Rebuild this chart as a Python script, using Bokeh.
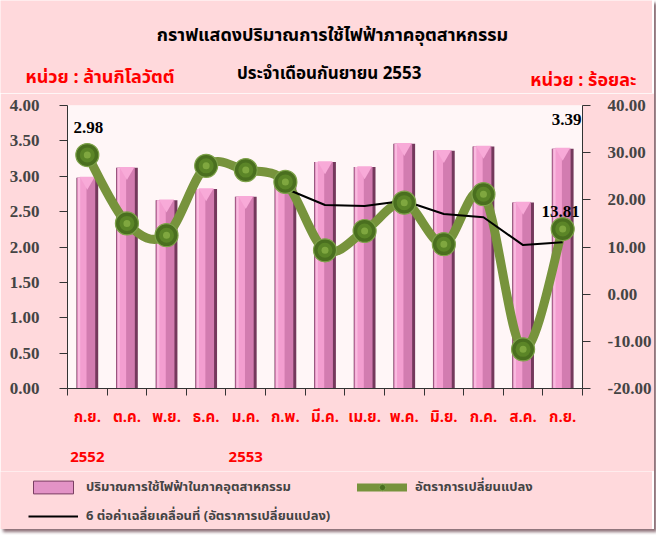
import numpy as np
from bokeh.plotting import figure
from bokeh.layouts import column
from bokeh.models import (Range1d, LinearAxis, FixedTicker, Label, Legend, LegendItem,
                          ColumnDataSource, NumeralTickFormatter)
from bokeh.transform import dodge
from bokeh.core.properties import value
from bokeh.embed import file_html
from bokeh.resources import INLINE

# ---------------- data ----------------
months = ["ก.ย.", "ต.ค.", "พ.ย.", "ธ.ค.", "ม.ค.", "ก.พ.", "มี.ค.", "เม.ย.", "พ.ค.", "มิ.ย.", "ก.ค.", "ส.ค.", "ก.ย."]
year_labels = {0: "2552", 4: "2553"}
usage = [2.98, 3.12, 2.66, 2.82, 2.71, 2.92, 3.20, 3.13, 3.46, 3.36, 3.42, 2.63, 3.39]   # ล้านกิโลวัตต์
change = [29.5, 15.0, 12.5, 27.2, 26.3, 23.8, 9.3, 13.4, 19.4, 10.6, 21.2, -11.7, 13.81]  # ร้อยละ
ma6_idx = [5, 6, 7, 8, 9, 10, 11, 12]
ma6 = [22.4, 18.9, 18.7, 19.8, 17.0, 16.3, 10.4, 11.0]
left_ticks = [0.0, 0.5, 1.0, 1.5, 2.0, 2.5, 3.0, 3.5, 4.0]
right_ticks = [-20, -10, 0, 10, 20, 30, 40]
legend_labels = ["ปริมาณการใช้ไฟฟ้าในภาคอุตสาหกรรม", "อัตราการเปลี่ยนแปลง",
                 "6 ต่อค่าเฉลี่ยเคลื่อนที่ (อัตราการเปลี่ยนแปลง)"]

THAI = "Noto Sans Thai, Noto Sans Thai UI, Loma, Garuda, Noto Sans, sans-serif"
SERIF = "Liberation Serif"
PINK = "#ffd9dc"
W = 652
BAR_C = "#d27cb0"
GREEN = "#77933c"

idx = list(range(len(months)))
src = ColumnDataSource(dict(x=idx, usage=usage, change=change))

# ---------------- title strip ----------------
TH = 93
top = figure(width=W, height=TH, x_range=Range1d(0, W), y_range=Range1d(0, TH),
             output_backend="svg", toolbar_location=None, frame_align=False,
             x_axis_location=None, y_axis_location=None, min_border=0,
             background_fill_color=PINK, border_fill_color=PINK, outline_line_color=None)
top.grid.visible = False
top.add_layout(Label(x=332, y=TH - 35, text="กราฟแสดงปริมาณการใช้ไฟฟ้าภาคอุตสาหกรรม",
                     text_align="center", text_baseline="middle", text_font=THAI,
                     text_font_style="bold", text_font_size="18px", text_color="black"))
top.add_layout(Label(x=331, y=TH - 73, text="ประจำเดือนกันยายน  2553",
                     text_align="center", text_baseline="middle", text_font=THAI,
                     text_font_style="bold", text_font_size="17px", text_color="black"))
top.add_layout(Label(x=25, y=TH - 77, text="หน่วย : ล้านกิโลวัตต์",
                     text_align="left", text_baseline="middle", text_font=THAI,
                     text_font_style="bold", text_font_size="18px", text_color="#ff0000"))
top.add_layout(Label(x=636, y=TH - 80, text="หน่วย : ร้อยละ",
                     text_align="right", text_baseline="middle", text_font=THAI,
                     text_font_style="bold", text_font_size="18px", text_color="#ff0000"))

# ---------------- main chart ----------------
p = figure(frame_width=515, frame_height=283, frame_align=False,
           x_range=Range1d(-0.5, 12.5), y_range=Range1d(0, 4),
           output_backend="svg", toolbar_location=None,
           min_border_left=67, min_border_right=70, min_border_top=12, min_border_bottom=80,
           background_fill_color="#fff6f7", border_fill_color=PINK,
           outline_line_color=None)
p.grid.visible = False
p.extra_y_ranges = {"pct": Range1d(-20, 40)}

# bars (3D look)
p.vbar(x="x", top="usage", bottom=0, width=0.55, source=src, fill_color="#74395c", line_color=None)
p.vbar(x=dodge("x", -0.03, range=p.x_range), top="usage", bottom=0, width=0.46, source=src,
       fill_color=BAR_C, line_color=None)
p.vbar(x=dodge("x", -0.12, range=p.x_range), top="usage", bottom=0, width=0.20, source=src,
       fill_color="#f39ed0", line_color=None)
p.vbar(x=dodge("x", -0.21, range=p.x_range), top="usage", bottom=0, width=0.06, source=src,
       fill_color="#f9bbdf", line_color=None)
p.scatter(x="x", y=dodge("usage", -0.05, range=p.y_range), source=src, marker="inverted_triangle",
          size=15, fill_color="#f8aad8", line_color=None)

# smoothed green line (bezier through the data points)
P = np.column_stack([np.array(idx, float), np.array(change, float)])
Ppad = np.vstack([P[0], P, P[-1]])
c1 = P[:-1] + (Ppad[2:-1] - Ppad[0:-3]) / 6.0
c2 = P[1:] - (Ppad[3:] - Ppad[1:-2]) / 6.0
bz = ColumnDataSource(dict(x0=P[:-1, 0], y0=P[:-1, 1], x1=P[1:, 0], y1=P[1:, 1],
                           cx0=c1[:, 0], cy0=c1[:, 1], cx1=c2[:, 0], cy1=c2[:, 1]))
p.bezier(x0="x0", y0="y0", x1="x1", y1="y1", cx0="cx0", cy0="cy0", cx1="cx1", cy1="cy1",
         source=bz, y_range_name="pct", line_color=GREEN, line_width=9, line_cap="round")

p.line(ma6_idx, ma6, y_range_name="pct", line_color="black", line_width=2)

p.scatter(x="x", y="change", source=src, y_range_name="pct", size=23,
          fill_color="#4a6f1f", line_color="#7ea24a", line_width=1.2)
p.scatter(x="x", y="change", source=src, y_range_name="pct", size=15,
          fill_color="#5b8527", line_color=None)
p.scatter(x="x", y="change", source=src, y_range_name="pct", size=7,
          fill_color="#7fa73f", line_color=None)

# data labels
lab_src = ColumnDataSource(dict(x=[0, 12], y=[usage[0], usage[12]], t=["2.98", "3.39"],
                                dy=[-50, -29], dx=[1, 4]))
p.text(x="x", y="y", text="t", source=lab_src, x_offset="dx", y_offset="dy",
       text_font=value(SERIF), text_font_style="bold", text_font_size="17px",
       text_align="center", text_baseline="middle", text_color="black")
p.text(x=[12], y=[change[12]], text=["13.81"], y_range_name="pct", y_offset=-18, x_offset=-2,
       text_font=value(SERIF), text_font_style="bold", text_font_size="17px",
       text_align="center", text_baseline="middle", text_color="black")

# axes
xa = p.xaxis[0]
xa.ticker = FixedTicker(ticks=idx, minor_ticks=[i - 0.5 for i in range(14)])
xa.major_label_overrides = {i: (m + "\n\n" + year_labels[i]) if i in year_labels else m
                            for i, m in enumerate(months)}
xa.major_tick_out = 0
xa.major_tick_in = 0
xa.minor_tick_out = 7
xa.minor_tick_in = 0
xa.major_label_standoff = 10
xa.major_label_text_color = "#ff0000"
xa.major_label_text_font = THAI
xa.major_label_text_font_style = "bold"
xa.major_label_text_font_size = "15px"
xa.major_label_text_line_height = 0.87
xa.axis_line_color = "#333333"
xa.minor_tick_line_color = "#333333"

ya = p.yaxis[0]
ya.ticker = FixedTicker(ticks=left_ticks, minor_ticks=[])
ya.formatter = NumeralTickFormatter(format="0.00")
ya.major_tick_out = 8
ya.major_tick_in = 0
ya.minor_tick_out = 0
ya.major_label_standoff = 20
ya.major_label_text_font = SERIF
ya.major_label_text_font_style = "bold"
ya.major_label_text_font_size = "17px"
ya.axis_line_color = "#333333"
ya.major_tick_line_color = "#333333"

ra = LinearAxis(y_range_name="pct", ticker=FixedTicker(ticks=right_ticks, minor_ticks=[]),
                formatter=NumeralTickFormatter(format="0.00"))
ra.major_tick_out = 8
ra.major_tick_in = 0
ra.minor_tick_out = 0
ra.major_label_standoff = 17
ra.major_label_text_font = SERIF
ra.major_label_text_font_style = "bold"
ra.major_label_text_font_size = "17px"
ra.axis_line_color = "#333333"
ra.major_tick_line_color = "#333333"
p.add_layout(ra, "right")

# ---------------- legend strip ----------------
leg = figure(width=W, height=58, x_range=Range1d(0, W), y_range=Range1d(0, 58),
             output_backend="svg", toolbar_location=None, frame_align=False,
             x_axis_location=None, y_axis_location=None, min_border=0,
             background_fill_color=PINK, border_fill_color=PINK, outline_line_color=None)
leg.grid.visible = False
r_bar = leg.vbar(x="x", top="usage", width=1, source=src, fill_color="#e393c6",
                 line_color="#7a3f62", line_width=1, visible=False)
r_gl = leg.line(x="x", y="change", source=src, line_color=GREEN, line_width=8,
                line_cap="round", visible=False)
r_gm = leg.scatter(x="x", y="change", source=src, size=18, fill_color="#4a6f1f",
                   line_color="#7ea24a", visible=False)
r_ma = leg.line(x=ma6_idx, y=ma6, line_color="black", line_width=2, visible=False)
legend = Legend(items=[
    LegendItem(label=legend_labels[0], renderers=[r_bar], index=0),
    LegendItem(label=legend_labels[1], renderers=[r_gl, r_gm], index=0),
    LegendItem(label=legend_labels[2], renderers=[r_ma]),
], orientation="horizontal", ncols=2, location=(28, 3),
    glyph_width=50, glyph_height=16, label_width=262, label_standoff=8, spacing=9,
    padding=0, margin=0, border_line_alpha=0, background_fill_alpha=0,
    inactive_fill_alpha=0,
    label_text_font=THAI, label_text_font_size="13px", label_text_font_style="bold")
leg.add_layout(legend, "center")

layout = column(top, p, leg, spacing=0)
layout.styles = {"box-shadow": "3px 3px 3px #8c7077"}

open("out.html", "w").write(file_html(layout, INLINE))
